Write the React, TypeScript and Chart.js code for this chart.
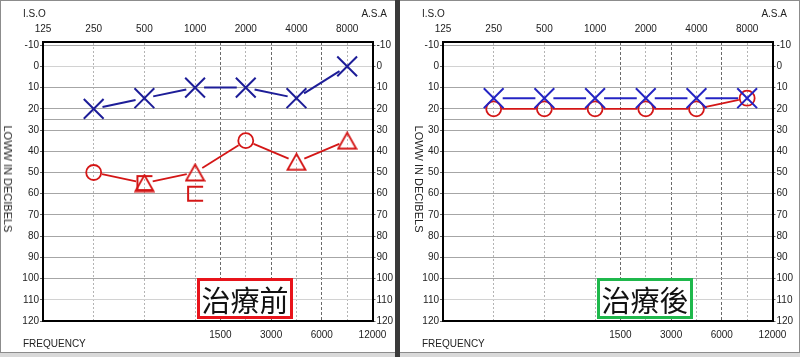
import React, { useEffect, useRef } from "react";
import { Chart, registerables } from "chart.js";
Chart.register(...registerables);

// ---------- data ----------
const FREQS = [250, 500, 1000, 2000, 4000, 8000];
const TOP_FREQ_LABELS = ["125", "250", "500", "1000", "2000", "4000", "8000"];
const BOTTOM_FREQ_LABELS = ["1500", "3000", "6000", "12000"];
const DB_TICKS = [-10, 0, 10, 20, 30, 40, 50, 60, 70, 80, 90, 100, 110, 120];

// before treatment
const BEFORE_LEFT_AIR = [20, 15, 10, 10, 15, 0];
const BEFORE_RIGHT = [50, 55, 50, 35, 45, 35];
const BEFORE_RIGHT_SYMBOLS = ["circle", "triangle", "triangle", "circle", "triangle", "triangle"];
const BEFORE_BRACKET_FREQS = [500, 1000];
const BEFORE_BRACKET = [55, 60];

// after treatment
const AFTER_LEFT_AIR = [15, 15, 15, 15, 15, 15];
const AFTER_RIGHT = [20, 20, 20, 20, 20, 15];
const AFTER_RIGHT_SYMBOLS = ["circle", "circle", "circle", "circle", "circle", "circle"];

const BLUE_BEFORE = "#1d1d98";
const BLUE_AFTER = "#2424c4";
const RED = "#d41616";
const FONT = "'Liberation Sans', Arial, sans-serif";

const W = 395;
const H = 357;

const oct = (f: number) => Math.log2(f / 125);

function makeBracket(color: string) {
  const c = document.createElement("canvas");
  c.width = 18;
  c.height = 18;
  const g = c.getContext("2d")!;
  g.strokeStyle = color;
  g.lineWidth = 2;
  g.beginPath();
  g.moveTo(17, 2);
  g.lineTo(2, 2);
  g.lineTo(2, 16);
  g.lineTo(17, 16);
  g.stroke();
  return c;
}

function makeTriangle(color: string) {
  const c = document.createElement("canvas");
  c.width = 21;
  c.height = 19;
  const g = c.getContext("2d")!;
  g.strokeStyle = color;
  g.lineWidth = 1.8;
  g.lineJoin = "miter";
  g.beginPath();
  g.moveTo(10.5, 1.5);
  g.lineTo(19.5, 17.5);
  g.lineTo(1.5, 17.5);
  g.closePath();
  g.stroke();
  return c;
}

const gapLinePlugin = {
  id: "gapLine",
  beforeDatasetsDraw(chart: any) {
    const ctx = chart.ctx;
    const a = chart.chartArea;
    ctx.save();
    ctx.beginPath();
    ctx.rect(a.left, a.top, a.right - a.left, a.bottom - a.top);
    ctx.clip();
    chart.data.datasets.forEach((ds: any, i: number) => {
      if (!ds.gapLine) return;
      const pts = chart.getDatasetMeta(i).data;
      ctx.strokeStyle = ds.borderColor;
      ctx.lineWidth = ds.gapLineWidth || 2;
      for (let k = 0; k < pts.length - 1; k++) {
        const p = pts[k];
        const q = pts[k + 1];
        const dx = q.x - p.x;
        const dy = q.y - p.y;
        const len = Math.hypot(dx, dy);
        const g = ds.gapLine;
        if (len <= 2 * g) continue;
        const ux = dx / len;
        const uy = dy / len;
        ctx.beginPath();
        ctx.moveTo(p.x + ux * g, p.y + uy * g);
        ctx.lineTo(q.x - ux * g, q.y - uy * g);
        ctx.stroke();
      }
    });
    ctx.restore();
  },
};

const setTicks = (values: number[]) => (scale: any) => {
  scale.ticks = values.map((v) => ({ value: v }));
};

function buildOptions(): any {
  const yTicks = [...DB_TICKS, 25];
  const hColor = (ctx: any) => {
    const v = ctx.tick ? ctx.tick.value : null;
    if (v === 0 || v === 110) return "#d2d2d2";
    return "#a6a6a6";
  };
  const tickMarkColor = (ctx: any) =>
    ctx.tick && ctx.tick.value === 25 ? "rgba(0,0,0,0)" : "#666";
  const tickFont = { family: FONT, size: 10 };
  return {
    animation: false,
    responsive: false,
    maintainAspectRatio: false,
    layout: { padding: 0 },
    plugins: { legend: { display: false }, tooltip: { enabled: false } },
    scales: {
      x: {
        type: "linear",
        position: "bottom",
        min: 0,
        max: 6.5,
        afterFit: (s: any) => {
          s.height = H - 321;
        },
        afterBuildTicks: setTicks(BOTTOM_FREQ_LABELS.map((_, i) => 3.5 + i)),
        ticks: {
          autoSkip: false,
          maxRotation: 0,
          padding: 8,
          color: "#222",
          font: tickFont,
          callback: (_v: any, i: number) => BOTTOM_FREQ_LABELS[i],
        },
        grid: { color: "#6a6a6a", lineWidth: 1, drawTicks: false },
        border: { display: true, color: "#000", width: 2, dash: [3, 2] },
      },
      xTop: {
        type: "linear",
        position: "top",
        min: 0,
        max: 6.5,
        afterFit: (s: any) => {
          s.height = 42;
        },
        afterBuildTicks: setTicks(TOP_FREQ_LABELS.map((_, i) => i)),
        ticks: {
          autoSkip: false,
          maxRotation: 0,
          padding: 7,
          color: "#222",
          font: tickFont,
          callback: (_v: any, i: number) => TOP_FREQ_LABELS[i],
        },
        grid: { color: "#b4b4b4", lineWidth: 1, drawTicks: false },
        border: { display: true, color: "#000", width: 2, dash: [2, 2] },
      },
      y: {
        type: "linear",
        position: "left",
        reverse: true,
        min: -11.5,
        max: 120,
        afterFit: (s: any) => {
          s.width = 43;
        },
        afterBuildTicks: setTicks(yTicks),
        ticks: {
          autoSkip: false,
          padding: 1,
          color: "#222",
          font: tickFont,
          callback: (v: any) => (v === 25 ? "" : String(v)),
        },
        grid: { color: hColor, lineWidth: 1, tickLength: 3, tickColor: tickMarkColor },
        border: { display: true, color: "#000", width: 2 },
      },
      y2: {
        type: "linear",
        position: "right",
        reverse: true,
        min: -11.5,
        max: 120,
        afterFit: (s: any) => {
          s.width = W - 372.5;
        },
        afterBuildTicks: setTicks(yTicks),
        ticks: {
          autoSkip: false,
          padding: 1,
          color: "#222",
          font: tickFont,
          callback: (v: any) => (v === 25 ? "" : String(v)),
        },
        grid: { drawOnChartArea: false, tickLength: 3, tickColor: tickMarkColor },
        border: { display: true, color: "#000", width: 2 },
      },
    },
  };
}

function buildDatasets(kind: "before" | "after"): any[] {
  const pts = (vals: number[], freqs: number[] = FREQS) =>
    vals.map((v, i) => ({ x: oct(freqs[i]), y: v }));
  const blue = kind === "before" ? BLUE_BEFORE : BLUE_AFTER;
  const blueVals = kind === "before" ? BEFORE_LEFT_AIR : AFTER_LEFT_AIR;
  const redVals = kind === "before" ? BEFORE_RIGHT : AFTER_RIGHT;
  const redSyms = kind === "before" ? BEFORE_RIGHT_SYMBOLS : AFTER_RIGHT_SYMBOLS;
  const tri = makeTriangle(RED);
  const ds: any[] = [
    {
      label: "left air",
      data: pts(blueVals),
      xAxisID: "x",
      yAxisID: "y",
      borderColor: blue,
      backgroundColor: "rgba(0,0,0,0)",
      pointStyle: "crossRot",
      pointRadius: 14,
      pointBorderWidth: 2,
      pointBorderColor: blue,
      showLine: false,
      gapLine: 9,
      gapLineWidth: 2,
      clip: false,
    },
    {
      label: "right",
      data: pts(redVals),
      xAxisID: "x",
      yAxisID: "y",
      borderColor: RED,
      backgroundColor: "rgba(0,0,0,0)",
      pointStyle: redSyms.map((s) => (s === "triangle" ? tri : "circle")),
      pointRadius: 7.5,
      pointBorderWidth: 1.8,
      pointBorderColor: RED,
      showLine: false,
      gapLine: 8.5,
      gapLineWidth: 1.8,
      clip: false,
    },
  ];
  if (kind === "before") {
    const br = makeBracket(RED);
    ds.push({
      label: "bracket",
      data: pts(BEFORE_BRACKET, BEFORE_BRACKET_FREQS),
      xAxisID: "x",
      yAxisID: "y",
      pointStyle: br,
      pointRadius: 9,
      showLine: false,
      clip: false,
    });
  }
  return ds;
}

function Panel(props: { left: number; kind: "before" | "after"; title: string; boxColor: string; vx: number; textLeft: number; textRight: number }) {
  const ref = useRef<HTMLCanvasElement | null>(null);
  useEffect(() => {
    const chart = new Chart(ref.current as HTMLCanvasElement, {
      type: "scatter",
      data: { datasets: buildDatasets(props.kind) },
      options: buildOptions(),
      plugins: [gapLinePlugin],
    } as any);
    return () => chart.destroy();
  }, []);
  const small: React.CSSProperties = {
    position: "absolute",
    fontFamily: FONT,
    fontSize: 10,
    color: "#222",
    lineHeight: "12px",
    whiteSpace: "nowrap",
  };
  return (
    <>
      <canvas
        ref={ref}
        width={W}
        height={H}
        style={{ position: "absolute", left: props.left, top: 0, width: W, height: H }}
      />
      <div style={{ ...small, left: props.textLeft, top: 8 }}>I.S.O</div>
      <div style={{ ...small, left: props.textRight - 26, width: 26, textAlign: "right", top: 8 }}>A.S.A</div>
      <div style={{ ...small, left: props.textLeft, top: 338 }}>FREQUENCY</div>
      <div
        style={{
          ...small,
          fontSize: 11,
          left: props.vx,
          top: 179,
          transform: "translate(-50%, -50%) rotate(90deg)",
        }}
      >
        LOWW IN DECIBELS
      </div>
      <div
        style={{
          position: "absolute",
          left: props.left + 197,
          top: 278,
          width: 96,
          height: 41,
          boxSizing: "border-box",
          border: `3px solid ${props.boxColor}`,
          background: "#fff",
          display: "flex",
          alignItems: "center",
          justifyContent: "center",
          fontFamily: "'Noto Sans CJK TC', 'Noto Sans CJK SC', sans-serif",
          fontSize: 29,
          lineHeight: "34px",
          color: "#111",
          whiteSpace: "nowrap",
        }}
      >
        {props.title}
      </div>
    </>
  );
}

export default function App() {
  return (
    <div
      style={{
        position: "fixed",
        left: 0,
        top: 0,
        width: 800,
        height: 357,
        background: "#fff",
        overflow: "hidden",
      }}
    >
      <div style={{ position: "absolute", left: 0, top: 0, width: 395, height: 353, boxSizing: "border-box", border: "1px solid #8c8c8c", borderRight: "none" }} />
      <div style={{ position: "absolute", left: 400, top: 0, width: 400, height: 353, boxSizing: "border-box", border: "1px solid #8c8c8c", borderLeft: "none" }} />
      <div style={{ position: "absolute", left: 0, top: 353, width: 800, height: 4, background: "#d9d9d9" }} />
      <Panel left={0} kind="before" title="治療前" boxColor="#e8141b" vx={8} textLeft={23} textRight={387} />
      <Panel left={400} kind="after" title="治療後" boxColor="#1fb84c" vx={419} textLeft={422} textRight={787} />
      <div style={{ position: "absolute", left: 395, top: 0, width: 5, height: 357, background: "#3a3a3a" }} />
    </div>
  );
}
